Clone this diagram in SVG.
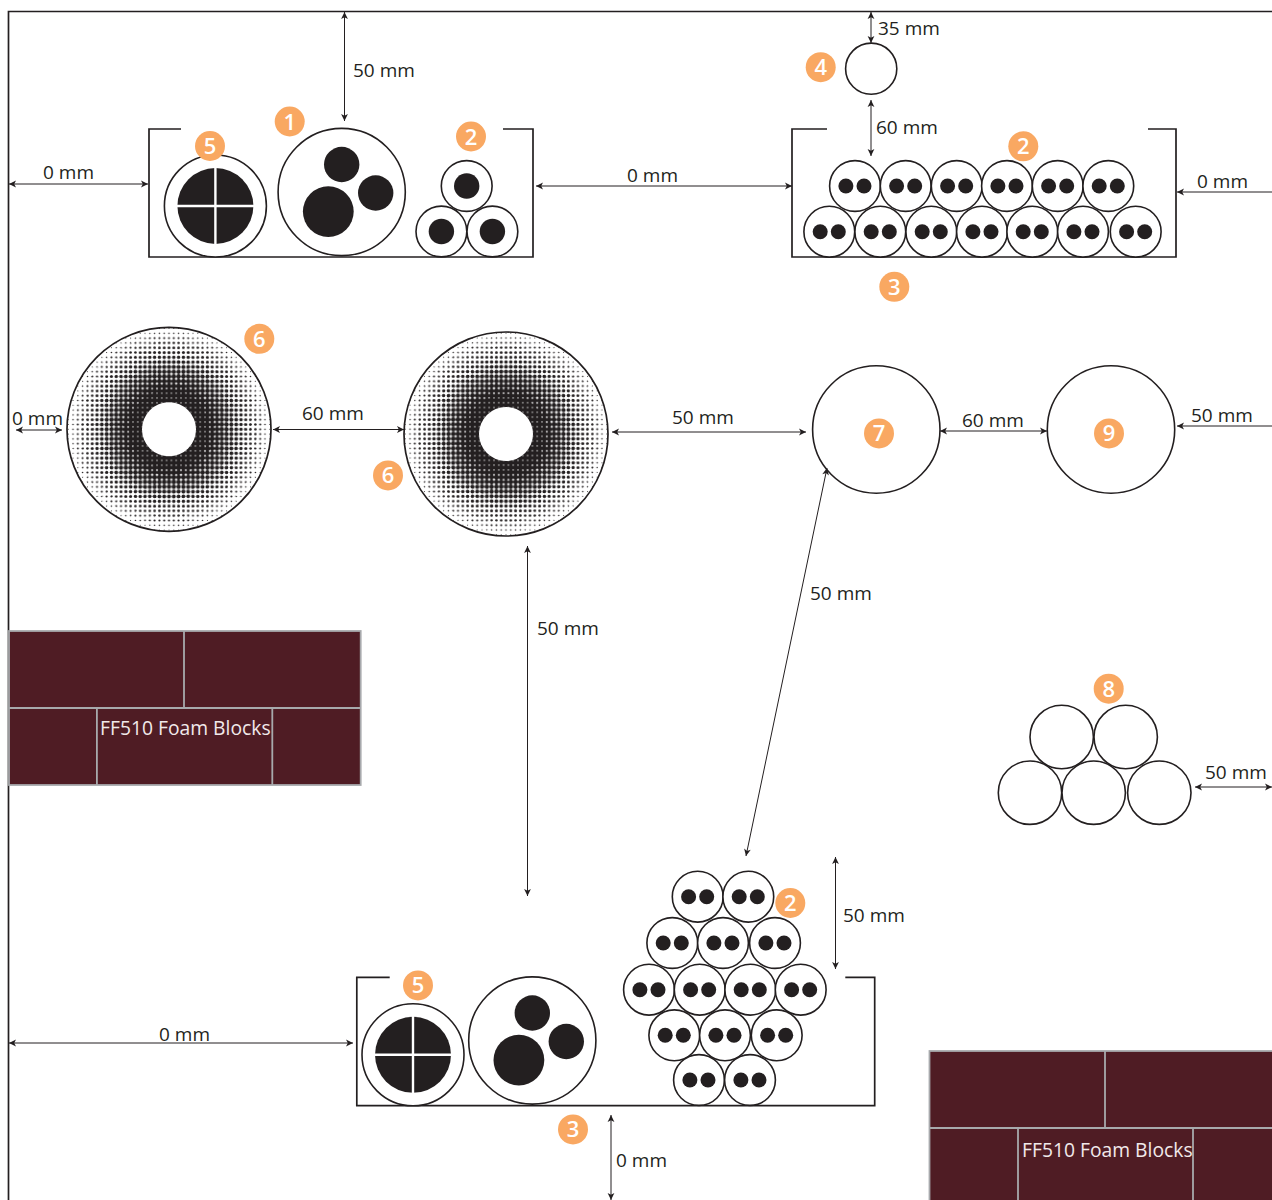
<svg xmlns="http://www.w3.org/2000/svg" width="1272" height="1200" viewBox="0 0 1272 1200">
<style>
text{font-family:"Open Sans","Noto Sans","Liberation Sans",sans-serif}
.l{font-size:19px;fill:#231f20}
.o{fill:#fff;stroke:#231f20;stroke-width:1.6}
.n{fill:none;stroke:#231f20;stroke-width:1.7}
.k{fill:#231f20}
.c{fill:none;stroke:#231f20;stroke-width:1;marker-start:url(#ah);marker-end:url(#ah)}
.b{fill:#f9a862}
.bt{font-size:22px;font-weight:600;fill:#fff;text-anchor:middle}
.f{fill:#4f1c24;stroke:#a7a9ac;stroke-width:1.8}
.fl{fill:none;stroke:#a7a9ac;stroke-width:1.8}
.ft{font-size:19.3px;fill:#f1e9ea}
.x{stroke:#fff;stroke-width:2.4;fill:none}
.w{fill:#fff}
.h{fill:#231f20}
</style>
<defs>
<marker id="ah" viewBox="-8 -4 9 8" refX="0" refY="0" markerWidth="9" markerHeight="8" markerUnits="userSpaceOnUse" orient="auto-start-reverse"><path d="M0,0L-7,-3.4L-5.2,0L-7,3.4Z" fill="#231f20"/></marker>
<pattern id="p0" patternUnits="userSpaceOnUse" x="-2.4" y="-2.4" width="4.8" height="4.8"><rect class="w" width="4.8" height="4.8"/><circle class="h" cx="2.4" cy="2.4" r="2.72"/></pattern>
<pattern id="p1" patternUnits="userSpaceOnUse" x="-2.4" y="-2.4" width="4.8" height="4.8"><rect class="w" width="4.8" height="4.8"/><circle class="h" cx="2.4" cy="2.4" r="2.56"/></pattern>
<pattern id="p2" patternUnits="userSpaceOnUse" x="-2.4" y="-2.4" width="4.8" height="4.8"><rect class="w" width="4.8" height="4.8"/><circle class="h" cx="2.4" cy="2.4" r="2.43"/></pattern>
<pattern id="p3" patternUnits="userSpaceOnUse" x="-2.4" y="-2.4" width="4.8" height="4.8"><rect class="w" width="4.8" height="4.8"/><circle class="h" cx="2.4" cy="2.4" r="2.3"/></pattern>
<pattern id="p4" patternUnits="userSpaceOnUse" x="-2.4" y="-2.4" width="4.8" height="4.8"><rect class="w" width="4.8" height="4.8"/><circle class="h" cx="2.4" cy="2.4" r="2.15"/></pattern>
<pattern id="p5" patternUnits="userSpaceOnUse" x="-2.4" y="-2.4" width="4.8" height="4.8"><rect class="w" width="4.8" height="4.8"/><circle class="h" cx="2.4" cy="2.4" r="1.95"/></pattern>
<pattern id="p6" patternUnits="userSpaceOnUse" x="-2.4" y="-2.4" width="4.8" height="4.8"><rect class="w" width="4.8" height="4.8"/><circle class="h" cx="2.4" cy="2.4" r="1.75"/></pattern>
<pattern id="p7" patternUnits="userSpaceOnUse" x="-2.4" y="-2.4" width="4.8" height="4.8"><rect class="w" width="4.8" height="4.8"/><circle class="h" cx="2.4" cy="2.4" r="1.52"/></pattern>
<pattern id="p8" patternUnits="userSpaceOnUse" x="-2.4" y="-2.4" width="4.8" height="4.8"><rect class="w" width="4.8" height="4.8"/><circle class="h" cx="2.4" cy="2.4" r="1.3"/></pattern>
<pattern id="p9" patternUnits="userSpaceOnUse" x="-2.4" y="-2.4" width="4.8" height="4.8"><rect class="w" width="4.8" height="4.8"/><circle class="h" cx="2.4" cy="2.4" r="1.05"/></pattern>
<pattern id="p10" patternUnits="userSpaceOnUse" x="-2.4" y="-2.4" width="4.8" height="4.8"><rect class="w" width="4.8" height="4.8"/><circle class="h" cx="2.4" cy="2.4" r="0.8"/></pattern>
<pattern id="p11" patternUnits="userSpaceOnUse" x="-2.4" y="-2.4" width="4.8" height="4.8"><rect class="w" width="4.8" height="4.8"/><circle class="h" cx="2.4" cy="2.4" r="0.55"/></pattern>
<g id="ht">
<circle r="102" fill="url(#p11)"/>
<circle r="98" fill="url(#p10)"/>
<circle r="94" fill="url(#p9)"/>
<circle r="88" fill="url(#p8)"/>
<circle r="82" fill="url(#p7)"/>
<circle r="76" fill="url(#p6)"/>
<circle r="70" fill="url(#p5)"/>
<circle r="64" fill="url(#p4)"/>
<circle r="58" fill="url(#p3)"/>
<circle r="52" fill="url(#p2)"/>
<circle r="46" fill="url(#p1)"/>
<circle r="40" fill="url(#p0)"/>
<circle r="102" class="n"/>
<circle r="27" fill="#fff"/>
</g>
<g id="d"><circle r="25.4" class="o"/><circle cx="-9.1" r="7.5" class="k"/><circle cx="9" r="7.5" class="k"/></g>
<g id="s"><circle r="25.4" class="o"/><circle r="12.7" class="k"/></g>
<g id="q"><circle r="51" class="o"/><circle r="38" class="k"/><path class="x" d="M0,-39V39M-39,0H39"/></g>
<g id="t"><circle r="63.6" class="o"/><circle cy="-27.5" r="17.7" class="k"/><circle cx="34" cy="1" r="17.7" class="k"/><circle cx="-13.4" cy="19.6" r="25.4" class="k"/></g>
</defs>
<rect width="1272" height="1200" fill="#fff"/>
<path id="frame" class="n" d="M8.5,1200V11.5H1272"/>
<g id="tray-a">
<path class="n" d="M181,129H149V257H533V129H503"/>
<use href="#q" x="215.4" y="206"/>
<use href="#t" x="341.7" y="192"/>
<use href="#s" x="466.7" y="186"/>
<use href="#s" x="441.4" y="231.5"/>
<use href="#s" x="492.4" y="231.5"/>
</g>
<g id="tray-b">
<path class="n" d="M827,129H792V257H1176V129H1148"/>
<use href="#d" x="855" y="186"/><use href="#d" x="905.7" y="186"/><use href="#d" x="956.7" y="186"/><use href="#d" x="1007" y="186"/><use href="#d" x="1057.7" y="186"/><use href="#d" x="1108.3" y="186"/>
<use href="#d" x="829.3" y="231.7"/><use href="#d" x="880.3" y="231.7"/><use href="#d" x="931.3" y="231.7"/><use href="#d" x="982" y="231.7"/><use href="#d" x="1032.3" y="231.7"/><use href="#d" x="1083" y="231.7"/><use href="#d" x="1135.7" y="231.7"/>
</g>
<g id="circle-4"><circle class="o" cx="871.2" cy="68.7" r="25.6"/></g>
<g id="donut-left"><use href="#ht" transform="translate(169,429.3)"/></g>
<g id="donut-right"><use href="#ht" transform="translate(506,434)"/></g>
<g id="circle-7"><circle class="o" cx="876.3" cy="429.5" r="63.7"/></g>
<g id="circle-9"><circle class="o" cx="1111" cy="429.5" r="63.7"/></g>
<g id="pile-8">
<circle class="o" cx="1061.7" cy="737" r="31.7"/><circle class="o" cx="1125.7" cy="737" r="31.7"/>
<circle class="o" cx="1030" cy="792.7" r="31.7"/><circle class="o" cx="1093.7" cy="792.7" r="31.7"/><circle class="o" cx="1159.3" cy="792.7" r="31.7"/>
</g>
<g id="tray-c">
<path class="n" d="M389.7,977.3H356.8V1105.7H874.7V977.3H845.3"/>
<use href="#q" x="413" y="1054.8"/>
<use href="#t" x="532.3" y="1040.5"/>
<use href="#d" x="697.7" y="896.7"/><use href="#d" x="748.3" y="896.7"/>
<use href="#d" x="672.3" y="943"/><use href="#d" x="723" y="943"/><use href="#d" x="775" y="943"/>
<use href="#d" x="649" y="989.7"/><use href="#d" x="699.7" y="989.7"/><use href="#d" x="750.3" y="989.7"/><use href="#d" x="800.7" y="989.7"/>
<use href="#d" x="674.3" y="1035.3"/><use href="#d" x="725" y="1035.3"/><use href="#d" x="776.7" y="1035.3"/>
<use href="#d" x="699" y="1080"/><use href="#d" x="750" y="1080"/>
</g>
<g id="foam-left">
<rect class="f" x="9" y="631" width="351.7" height="154"/>
<path class="fl" d="M9,708H360.7M184,631V708M96.9,708V785M272.3,708V785"/>
<text class="ft" x="100" y="735">FF510 Foam Blocks</text>
</g>
<g id="foam-right">
<rect class="f" x="929.5" y="1051" width="360" height="170"/>
<path class="fl" d="M929.5,1128H1272M1105,1051V1128M1018,1128V1200M1193,1128V1200"/>
<text class="ft" x="1022" y="1157">FF510 Foam Blocks</text>
</g>
<g id="connectors">
<path class="c" d="M344.5,12V121"/>
<path class="c" d="M9,184H148"/>
<path class="c" d="M536,186H792"/>
<path class="c" d="M871,12V43"/>
<path class="c" d="M871,100V156"/>
<path class="c" d="M1177,192H1280"/>
<path class="c" d="M16,430H62"/>
<path class="c" d="M273,429.5H404"/>
<path class="c" d="M612,432H806"/>
<path class="c" d="M940,431H1047"/>
<path class="c" d="M1177,426H1280"/>
<path class="c" d="M827,468L746,856"/>
<path class="c" d="M527.5,546V896"/>
<path class="c" d="M1195,787H1272"/>
<path class="c" d="M835.5,857V969"/>
<path class="c" d="M9,1043H353"/>
<path class="c" d="M611,1115V1200"/>
</g>
<g id="labels">
<text class="l" x="353" y="77">50 mm</text>
<text class="l" x="43" y="179">0 mm</text>
<text class="l" x="627" y="182">0 mm</text>
<text class="l" x="878" y="35">35 mm</text>
<text class="l" x="876" y="134">60 mm</text>
<text class="l" x="1197" y="188">0 mm</text>
<text class="l" x="12" y="425">0 mm</text>
<text class="l" x="302" y="420">60 mm</text>
<text class="l" x="672" y="424">50 mm</text>
<text class="l" x="962" y="427">60 mm</text>
<text class="l" x="1191" y="422">50 mm</text>
<text class="l" x="810" y="600">50 mm</text>
<text class="l" x="537" y="635">50 mm</text>
<text class="l" x="1205" y="779">50 mm</text>
<text class="l" x="843" y="922">50 mm</text>
<text class="l" x="159" y="1041">0 mm</text>
<text class="l" x="616" y="1167">0 mm</text>
</g>
<g id="badges">
<g id="b1"><circle class="b" cx="289.7" cy="121.5" r="15"/><text class="bt" x="289.7" y="129.5">1</text></g>
<g id="b5a"><circle class="b" cx="210" cy="146" r="15"/><text class="bt" x="210" y="154">5</text></g>
<g id="b2a"><circle class="b" cx="471" cy="136.5" r="15"/><text class="bt" x="471" y="144.5">2</text></g>
<g id="b4"><circle class="b" cx="820.7" cy="67.2" r="15"/><text class="bt" x="820.7" y="75.2">4</text></g>
<g id="b2b"><circle class="b" cx="1023.3" cy="146.3" r="15"/><text class="bt" x="1023.3" y="154.3">2</text></g>
<g id="b3a"><circle class="b" cx="894.3" cy="286.8" r="15"/><text class="bt" x="894.3" y="294.8">3</text></g>
<g id="b6a"><circle class="b" cx="259.3" cy="338.8" r="15"/><text class="bt" x="259.3" y="346.8">6</text></g>
<g id="b6b"><circle class="b" cx="388" cy="475.4" r="15"/><text class="bt" x="388" y="483.4">6</text></g>
<g id="b7"><circle class="b" cx="879" cy="433.4" r="15"/><text class="bt" x="879" y="441.4">7</text></g>
<g id="b9"><circle class="b" cx="1109" cy="433.4" r="15"/><text class="bt" x="1109" y="441.4">9</text></g>
<g id="b8"><circle class="b" cx="1108.7" cy="688.7" r="15"/><text class="bt" x="1108.7" y="696.7">8</text></g>
<g id="b2c"><circle class="b" cx="790.3" cy="903" r="15"/><text class="bt" x="790.3" y="911">2</text></g>
<g id="b5b"><circle class="b" cx="418" cy="985.4" r="15"/><text class="bt" x="418" y="993.4">5</text></g>
<g id="b3b"><circle class="b" cx="573" cy="1129.4" r="15"/><text class="bt" x="573" y="1137.4">3</text></g>
</g>
</svg>
